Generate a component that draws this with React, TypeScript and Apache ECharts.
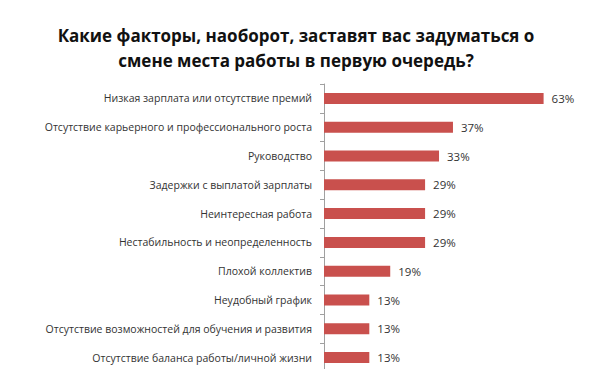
import React, { useEffect, useRef } from "react";
import * as echarts from "echarts";

const titleLines = [
  "Какие факторы, наоборот, заставят вас задуматься о",
  "смене места работы в первую очередь?",
];

const categories = [
  "Низкая зарплата или отсутствие премий",
  "Отсутствие карьерного и профессионального роста",
  "Руководство",
  "Задержки с выплатой зарплаты",
  "Неинтересная работа",
  "Нестабильность и неопределенность",
  "Плохой коллектив",
  "Неудобный график",
  "Отсутствие возможностей для обучения и развития",
  "Отсутствие баланса работы/личной жизни",
];

const values = [63, 37, 33, 29, 29, 29, 19, 13, 13, 13];

export default function App() {
  const ref = useRef<HTMLDivElement>(null);
  useEffect(() => {
    if (!ref.current) return;
    const chart = echarts.init(ref.current, undefined, { renderer: "svg" });
    chart.setOption({
      animation: false,
      backgroundColor: "#ffffff",
      title: {
        text: titleLines.join("\n"),
        left: 291,
        textAlign: "center",
        top: 18,
        textStyle: {
          fontFamily: "Open Sans",
          fontWeight: "bold",
          fontSize: 17,
          lineHeight: 25,
          color: "#111111",
        },
      },
      grid: { left: 324, width: 244, top: 84, height: 288 },
      xAxis: {
        type: "value",
        min: 0,
        max: 70,
        show: false,
      },
      yAxis: {
        type: "category",
        inverse: true,
        data: categories,
        axisLine: { show: true, lineStyle: { color: "#a0a0a0", width: 1 } },
        axisTick: { show: true, length: 4, lineStyle: { color: "#a0a0a0" } },
        axisLabel: {
          fontFamily: "Open Sans",
          fontSize: 10.5,
          color: "#333333",
          margin: 12,
        },
      },
      series: [
        {
          type: "bar",
          data: values,
          barWidth: 11,
          itemStyle: { color: "#C9504D" },
          label: {
            show: true,
            position: "right",
            distance: 8,
            formatter: "{c}%",
            fontFamily: "Open Sans",
            fontSize: 11.5,
            color: "#333333",
          },
        },
      ],
    });
    return () => chart.dispose();
  }, []);
  return <div ref={ref} style={{ width: 600, height: 377, margin: -8 }} />;
}
